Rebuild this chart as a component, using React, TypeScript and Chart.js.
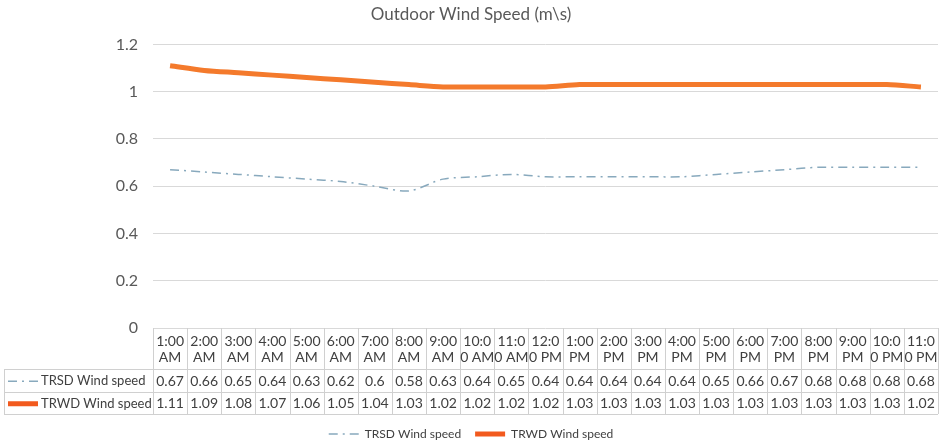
import React, { useEffect, useRef } from "react";
import { Chart, registerables } from "chart.js";

Chart.register(...registerables);

const TITLE = "Outdoor Wind Speed (m\\s)";
const categories = [
  "1:00 AM", "2:00 AM", "3:00 AM", "4:00 AM", "5:00 AM", "6:00 AM", "7:00 AM", "8:00 AM",
  "9:00 AM", "10:00 AM", "11:00 AM", "12:00 PM", "1:00 PM", "2:00 PM", "3:00 PM", "4:00 PM",
  "5:00 PM", "6:00 PM", "7:00 PM", "8:00 PM", "9:00 PM", "10:00 PM", "11:00 PM",
];
const trsdLabel = "TRSD Wind speed";
const trwdLabel = "TRWD Wind speed";
const trsd = [0.67, 0.66, 0.65, 0.64, 0.63, 0.62, 0.6, 0.58, 0.63, 0.64, 0.65, 0.64, 0.64, 0.64, 0.64, 0.64, 0.65, 0.66, 0.67, 0.68, 0.68, 0.68, 0.68];
const trwd = [1.11, 1.09, 1.08, 1.07, 1.06, 1.05, 1.04, 1.03, 1.02, 1.02, 1.02, 1.02, 1.03, 1.03, 1.03, 1.03, 1.03, 1.03, 1.03, 1.03, 1.03, 1.03, 1.02];
const yTicks = [0, 0.2, 0.4, 0.6, 0.8, 1, 1.2];

const FONT = "Lato, 'Open Sans', sans-serif";
const TRWD_COLOR = "#F47A2C";
const TRWD_KEY_COLOR = "#F25A1E";
const TRSD_COLOR = "#88A9BD";
const TRSD_DASH = [9, 5, 2, 5];

// Excel-like wrap of category labels into two lines (4 chars max on the first)
function wrapLabel(label: string): string[] {
  const [time, ampm] = label.split(" ");
  if (time.length <= 4) return [time, ampm];
  return [time.slice(0, 4), time.slice(4) + " " + ampm];
}

const tablePlugin = {
  id: "dataTable",
  afterDraw(chart: any) {
    const ctx = chart.ctx as CanvasRenderingContext2D;
    const x = chart.scales.x;
    const area = chart.chartArea;
    const n = categories.length;
    const cw = (x.right - x.left) / n;
    const top = area.bottom;
    const r1 = top + 41;
    const r2 = r1 + 22.5;
    const r3 = r2 + 22.5;
    const tableLeft = 4;

    ctx.save();
    ctx.strokeStyle = "#D0D0D0";
    ctx.lineWidth = 1;
    ctx.setLineDash([]);
    ctx.beginPath();
    for (const yy of [r1, r2, r3]) {
      ctx.moveTo(tableLeft, Math.round(yy) + 0.5);
      ctx.lineTo(x.right, Math.round(yy) + 0.5);
    }
    ctx.moveTo(tableLeft + 0.5, r1);
    ctx.lineTo(tableLeft + 0.5, r3);
    for (let i = 0; i <= n; i++) {
      const xx = Math.round(x.left + i * cw) + 0.5;
      ctx.moveTo(xx, top);
      ctx.lineTo(xx, r3);
    }
    ctx.stroke();

    ctx.fillStyle = "#404040";
    ctx.font = `14px ${FONT}`;
    ctx.textAlign = "center";
    ctx.textBaseline = "middle";
    categories.forEach((c, i) => {
      const cx = x.getPixelForValue(i);
      const lines = wrapLabel(c);
      ctx.fillText(lines[0], cx, top + 13);
      ctx.fillText(lines[1], cx, top + 29);
      ctx.fillText(String(trsd[i]), cx, (r1 + r2) / 2 + 1);
      ctx.fillText(String(trwd[i]), cx, (r2 + r3) / 2 + 1);
    });

    // row headers with series keys
    const rowsInfo = [
      { label: trsdLabel, y: (r1 + r2) / 2, color: TRSD_COLOR, width: 1.5, dash: TRSD_DASH },
      { label: trwdLabel, y: (r2 + r3) / 2, color: TRWD_KEY_COLOR, width: 5, dash: [] as number[] },
    ];
    ctx.font = `13px ${FONT}`;
    rowsInfo.forEach((r) => {
      ctx.beginPath();
      ctx.strokeStyle = r.color;
      ctx.lineWidth = r.width;
      ctx.setLineDash(r.dash);
      ctx.moveTo(8, r.y + 1);
      ctx.lineTo(38, r.y + 1);
      ctx.stroke();
      ctx.setLineDash([]);
      ctx.textAlign = "left";
      ctx.fillStyle = "#404040";
      ctx.fillText(r.label, 41, r.y + 1);
    });
    ctx.restore();
  },
};

export default function App() {
  const ref = useRef<HTMLCanvasElement | null>(null);
  useEffect(() => {
    if (!ref.current) return;
    const chart = new Chart(ref.current, {
      type: "line",
      data: {
        labels: categories,
        datasets: [
          {
            label: trsdLabel,
            data: trsd,
            borderColor: TRSD_COLOR,
            backgroundColor: TRSD_COLOR,
            borderWidth: 1.5,
            borderDash: TRSD_DASH,
            pointRadius: 0,
            tension: 0.3,
          },
          {
            label: trwdLabel,
            data: trwd,
            borderColor: TRWD_COLOR,
            backgroundColor: TRWD_KEY_COLOR,
            borderWidth: 5,
            pointRadius: 0,
            tension: 0.3,
          },
        ],
      },
      options: {
        responsive: false,
        animation: false,
        layout: { padding: { left: 4, right: 3, top: 0, bottom: -8 } },
        scales: {
          x: {
            type: "category",
            offset: true,
            grid: { display: false },
            border: { display: false },
            ticks: { display: false },
            afterFit: (s: any) => {
              s.height = 86;
            },
          },
          y: {
            min: 0,
            max: 1.2,
            afterBuildTicks: (s: any) => {
              s.ticks = yTicks.map((v) => ({ value: v }));
            },
            ticks: {
              font: { family: FONT, size: 16 },
              color: "#595959",
              padding: 15,
              callback: (v: any) => String(Number(Number(v).toFixed(1))),
            },
            grid: { color: "#D9D9D9", drawTicks: false },
            border: { display: false },
            afterFit: (s: any) => {
              s.width = 149;
            },
          },
        },
        plugins: {
          title: {
            display: true,
            text: TITLE,
            color: "#595959",
            font: { family: FONT, size: 17, weight: "normal" },
            padding: { top: 4, bottom: 20 },
          },
          legend: {
            position: "bottom",
            labels: {
              usePointStyle: true,
              pointStyle: "line",
              pointStyleWidth: 30,
              padding: 14,
              color: "#404040",
              font: { family: FONT, size: 12 },
              generateLabels: (chart: any) =>
                chart.data.datasets.map((ds: any, i: number) => ({
                  text: ds.label,
                  datasetIndex: i,
                  fillStyle: ds.backgroundColor,
                  strokeStyle: i === 1 ? TRWD_KEY_COLOR : ds.borderColor,
                  lineWidth: ds.borderWidth,
                  lineDash: ds.borderDash || [],
                  pointStyle: "line",
                  hidden: false,
                  fontColor: "#404040",
                })),
            },
          },
          tooltip: { enabled: false },
        },
      },
      plugins: [tablePlugin],
    });
    return () => chart.destroy();
  }, []);
  return (
    <div style={{ position: "absolute", left: 0, top: 0, width: 941, height: 442, background: "#fff" }}>
      <canvas ref={ref} width={941} height={442} style={{ display: "block" }} />
    </div>
  );
}
